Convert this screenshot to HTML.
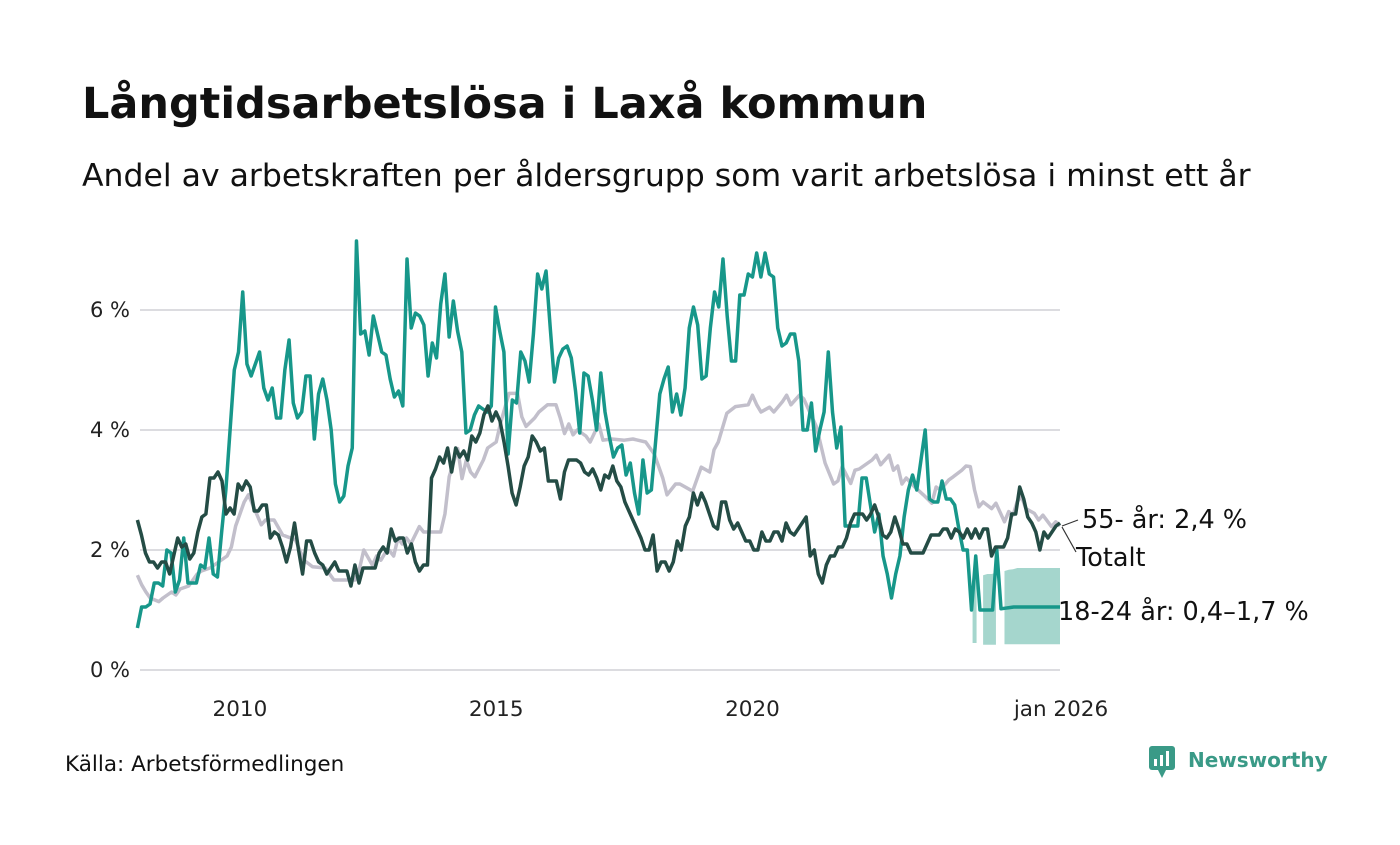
<!DOCTYPE html>
<html><head><meta charset="utf-8">
<style>
body{margin:0;background:#fff;width:1400px;height:840px;overflow:hidden;font-family:"Liberation Sans","DejaVu Sans",sans-serif;}
</style></head>
<body>
<svg id="chart" width="1400" height="840" xmlns="http://www.w3.org/2000/svg">
<text x="82" y="118" font-size="43" font-weight="bold" fill="#111" font-family="DejaVu Sans, sans-serif">Långtidsarbetslösa i Laxå kommun</text>
<text x="82" y="186" font-size="31.5" fill="#111" font-family="DejaVu Sans, sans-serif">Andel av arbetskraften per åldersgrupp som varit arbetslösa i minst ett år</text>
<g id="grid"></g><g id="band"></g><g id="lines"></g><g id="labels"></g>
<text x="65" y="771" font-size="21.5" fill="#111" font-family="DejaVu Sans, sans-serif">Källa: Arbetsförmedlingen</text>
<g>
<rect x="1149" y="746" width="26" height="24" rx="3" fill="#3a9a87"/>
<path d="M1158 770 L1162 778 L1166 770Z" fill="#3a9a87"/>
<rect x="1154" y="759" width="3" height="7" fill="#fff"/><rect x="1160" y="755" width="3" height="11" fill="#fff"/><rect x="1166" y="751" width="3" height="15" fill="#fff"/>
<text x="1188" y="767" font-size="20" font-weight="bold" fill="#3a9a87" font-family="DejaVu Sans, sans-serif">Newsworthy</text>
</g>
</svg>
<script>
const yTicks=[0,2,4,6];
const yTickLabels=["0 %","2 %","4 %","6 %"];
const xTicks=[24,84,144,216];
const xTickLabels=["2010","2015","2020","jan 2026"];
const totalMonths=216;
const youth=[0.7,1.05,1.05,1.1,1.45,1.45,1.4,2.0,1.95,1.3,1.5,2.2,1.45,1.45,1.45,1.75,1.7,2.2,1.6,1.55,2.3,3.0,4.0,5.0,5.3,6.3,5.1,4.9,5.1,5.3,4.7,4.5,4.7,4.2,4.2,5.0,5.5,4.45,4.2,4.3,4.9,4.9,3.85,4.6,4.85,4.5,4.0,3.1,2.8,2.9,3.4,3.7,7.15,5.6,5.65,5.25,5.9,5.6,5.3,5.25,4.85,4.55,4.65,4.4,6.85,5.7,5.95,5.9,5.75,4.9,5.45,5.2,6.1,6.6,5.55,6.15,5.65,5.3,3.95,4.0,4.25,4.4,4.35,4.3,4.4,6.05,5.65,5.3,3.6,4.5,4.45,5.3,5.15,4.8,5.6,6.6,6.35,6.65,5.7,4.8,5.2,5.35,5.4,5.2,4.65,3.95,4.95,4.9,4.5,4.0,4.95,4.3,3.9,3.55,3.7,3.75,3.25,3.45,2.95,2.6,3.5,2.95,3.0,3.8,4.6,4.85,5.05,4.3,4.6,4.25,4.7,5.7,6.05,5.75,4.85,4.9,5.7,6.3,6.05,6.85,5.9,5.15,5.15,6.25,6.25,6.6,6.55,6.95,6.55,6.95,6.6,6.55,5.7,5.4,5.45,5.6,5.6,5.15,4.0,4.0,4.45,3.65,4.0,4.3,5.3,4.3,3.7,4.05,2.4,2.4,2.4,2.4,3.2,3.2,2.75,2.3,2.6,1.9,1.6,1.2,1.6,1.9,2.55,3.0,3.25,3.0,3.5,4.0,2.85,2.8,2.8,3.15,2.85,2.85,2.75,2.35,2.0,2.0,1.0,1.9,1.0,1.0,1.0,1.0,2.0,1.02,1.03,1.04,1.05,1.05,1.05,1.05,1.05,1.05,1.05,1.05,1.05,1.05,1.05,1.05];
const total=[2.5,2.25,1.95,1.8,1.8,1.7,1.8,1.8,1.6,1.9,2.2,2.05,2.1,1.85,1.95,2.3,2.55,2.6,3.2,3.2,3.3,3.15,2.6,2.7,2.6,3.1,3.0,3.15,3.05,2.65,2.65,2.75,2.75,2.2,2.3,2.25,2.05,1.8,2.05,2.45,2.0,1.6,2.15,2.15,1.95,1.8,1.75,1.6,1.7,1.8,1.65,1.65,1.65,1.4,1.75,1.45,1.7,1.7,1.7,1.7,1.95,2.05,1.95,2.35,2.15,2.2,2.2,1.95,2.1,1.8,1.65,1.75,1.75,3.2,3.35,3.55,3.45,3.7,3.3,3.7,3.55,3.65,3.5,3.9,3.8,3.95,4.25,4.4,4.15,4.3,4.15,3.8,3.4,2.95,2.75,3.05,3.4,3.55,3.9,3.8,3.65,3.7,3.15,3.15,3.15,2.85,3.3,3.5,3.5,3.5,3.45,3.3,3.25,3.35,3.2,3.0,3.25,3.2,3.4,3.15,3.05,2.8,2.65,2.5,2.35,2.2,2.0,2.0,2.25,1.65,1.8,1.8,1.65,1.8,2.15,2.0,2.4,2.55,2.95,2.75,2.95,2.8,2.6,2.4,2.35,2.8,2.8,2.5,2.35,2.45,2.3,2.15,2.15,2.0,2.0,2.3,2.15,2.15,2.3,2.3,2.15,2.45,2.3,2.25,2.35,2.45,2.55,1.9,2.0,1.6,1.45,1.75,1.9,1.9,2.05,2.05,2.2,2.45,2.6,2.6,2.6,2.5,2.6,2.75,2.55,2.25,2.2,2.3,2.55,2.35,2.1,2.1,1.95,1.95,1.95,1.95,2.1,2.25,2.25,2.25,2.35,2.35,2.2,2.35,2.3,2.2,2.35,2.2,2.35,2.2,2.35,2.35,1.9,2.05,2.05,2.05,2.2,2.6,2.6,3.05,2.85,2.55,2.45,2.3,2.0,2.3,2.2,2.3,2.4,2.45];
const seniorMonths=[0,1,2,3,5,6,7,8,9,10,12,13,14,15,17,18,19,21,22,23,24,25,26,29,30,32,34,37,39,41,44,46,48,51,52,53,55,56,57,58,59,60,61,62,63,64,66,67,68,71,72,73,75,76,77,78,79,81,82,84,85,87,89,90,91,93,94,96,98,99,100,101,102,103,105,106,108,109,111,114,116,119,121,123,124,126,127,130,132,134,135,136,138,140,143,144,145,146,148,149,151,152,153,155,156,159,161,163,164,165,167,168,169,172,173,174,176,177,178,179,180,182,184,186,187,188,190,191,193,194,195,196,197,198,200,201,203,204,205,206,207,208,210,211,212,214,215,216];
const seniorValues=[1.58,1.42,1.3,1.2,1.14,1.2,1.25,1.3,1.25,1.35,1.4,1.5,1.6,1.65,1.7,1.75,1.8,1.9,2.05,2.4,2.6,2.8,2.92,2.42,2.5,2.5,2.25,2.17,1.83,1.72,1.7,1.5,1.5,1.5,1.69,2.0,1.75,1.9,1.83,1.95,1.99,1.9,2.2,2.1,2.2,2.1,2.39,2.3,2.3,2.3,2.6,3.22,3.69,3.19,3.5,3.3,3.22,3.5,3.7,3.8,4.11,4.61,4.61,4.22,4.06,4.2,4.3,4.42,4.42,4.2,3.94,4.1,3.92,4.0,3.9,3.8,4.1,3.83,3.85,3.83,3.85,3.8,3.6,3.2,2.92,3.1,3.1,2.98,3.38,3.3,3.67,3.8,4.28,4.39,4.42,4.58,4.42,4.3,4.38,4.3,4.47,4.58,4.42,4.58,4.52,4.05,3.45,3.1,3.15,3.39,3.11,3.33,3.35,3.5,3.58,3.42,3.58,3.33,3.4,3.1,3.2,3.05,2.92,2.78,3.05,3.0,3.17,3.22,3.33,3.4,3.39,3.0,2.72,2.8,2.69,2.78,2.47,2.64,2.58,2.81,2.89,2.69,2.61,2.5,2.58,2.39,2.47,2.4];
const bandStart=196;
const bandLow=[0.45,null,0.42,0.42,0.42,0.42,null,0.43,0.43,0.43,0.43,0.43,0.43,0.43,0.43,0.43,0.43,0.43,0.43,0.43,0.43];
const bandHigh=[1.55,null,1.58,1.6,1.6,1.62,null,1.65,1.67,1.68,1.7,1.7,1.7,1.7,1.7,1.7,1.7,1.7,1.7,1.7,1.7];

const NS="http://www.w3.org/2000/svg";
const X0=137.4,X1=1060,Y0=670,PX=60;
const xs=m=>X0+(X1-X0)*m/totalMonths;
const ys=v=>Y0-v*PX;
function mk(tag,attrs,parent){const e=document.createElementNS(NS,tag);for(const k in attrs)e.setAttribute(k,attrs[k]);parent.appendChild(e);return e;}
const F='DejaVu Sans, sans-serif';
const grid=document.getElementById('grid');
yTicks.forEach((t,i)=>{
  const l=mk('line',{x1:140,x2:1060,y1:ys(t),y2:ys(t),stroke:'#dcdce0','stroke-width':2},grid);
  
  
  const tx=mk('text',{x:130,y:ys(t)+7,'text-anchor':'end','font-size':21,fill:'#222','font-family':F},grid);
  tx.textContent=yTickLabels[i];
  
  
});
xTicks.forEach((m,i)=>{
  const tx=mk('text',{x:xs(m)-(i===3?-1:0),y:716,'text-anchor':'middle','font-size':21.5,fill:'#222','font-family':F},grid);
  tx.textContent=xTickLabels[i];
  
  
});
const bandG=document.getElementById('band');
let seg=[];
function flush(){if(seg.length>0){let up=seg.map(s=>xs(s[0])+','+ys(s[2]));let lo=seg.slice().reverse().map(s=>xs(s[0])+','+ys(s[1]));
  if(seg.length===1){const x=xs(seg[0][0]);up=[(x-2)+','+ys(seg[0][2]),(x+2)+','+ys(seg[0][2])];lo=[(x+2)+','+ys(seg[0][1]),(x-2)+','+ys(seg[0][1])];}
  const p=mk('polygon',{points:up.concat(lo).join(' '),fill:'#a5d6cd'},bandG);
  
  }seg=[];}
bandLow.forEach((v,i)=>{if(v===null){flush();}else seg.push([bandStart+i,v,bandHigh[i]]);});flush();
const lines=document.getElementById('lines');
function drawPts(pts,color,name){
  const p=mk('polyline',{points:pts,fill:'none',stroke:color,'stroke-width':3.5,'stroke-linejoin':'round'},lines);
  
  
}
function draw(arr,color,name){const n=arr.length;drawPts(arr.map((v,i)=>xs(i*totalMonths/(n-1))+','+ys(v)).join(' '),color,name);}
drawPts(seniorValues.map((v,i)=>xs(seniorMonths[i])+','+ys(v)).join(' '),'#c2bfcb','line-55-plus');
draw(youth,'#17978a','line-18-24');
draw(total,'#244c45','line-totalt');
const lab=document.getElementById('labels');
const sLast=seniorValues[seniorValues.length-1],tLast=total[total.length-1];
mk('line',{x1:1062,y1:ys(sLast),x2:1078,y2:ys(sLast)-6,stroke:'#333','stroke-width':1.2},lab);
mk('line',{x1:1062,y1:ys(tLast)+4,x2:1076,y2:552,stroke:'#333','stroke-width':1.2},lab);
const l1=mk('text',{x:1082,y:528,'font-size':25.5,fill:'#111','font-family':F},lab);l1.textContent='55- år: '+sLast.toFixed(1).replace('.',',')+' %';


const l2=mk('text',{x:1076,y:566,'font-size':25.5,fill:'#111','font-family':F},lab);l2.textContent='Totalt';


const l3=mk('text',{x:1058,y:620,'font-size':25.5,fill:'#111','font-family':F},lab);l3.textContent='18-24 år: 0,4–1,7 %';


</script>
</body></html>
